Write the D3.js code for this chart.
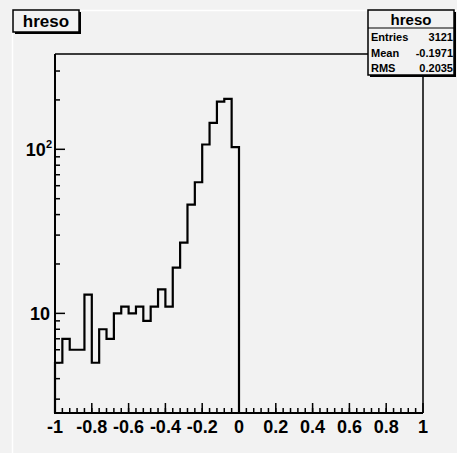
<!DOCTYPE html>
<html lang="en">
<head>
    <meta charset="UTF-8">
    <title>hreso</title>
    <script src="https://cdn.jsdelivr.net/npm/d3@7"></script>
    <style>
        body, html {
            margin: 0;
            padding: 0;
            overflow: hidden;
            background: #f2f2f2;
        }
        svg {
            display: block;
            font-family: "Liberation Sans", Arial, sans-serif;
            font-weight: bold;
        }
    </style>
</head>
<body>
    <svg id="mainsvg"></svg>
    <script>
        // histogram definition: 50 bins from -1 to 1
        const nBins = 50;
        const xMin = -1;
        const xMax = 1;
        // bin contents (bins 1..25, the rest are empty)
        const counts = [5, 7, 6, 6, 13, 5, 8, 7, 10, 11, 10, 11, 9, 11, 14, 11, 19, 27, 46, 63, 107, 145, 195, 203, 103];

        const xTickValues = [-1, -0.8, -0.6, -0.4, -0.2, 0, 0.2, 0.4, 0.6, 0.8, 1];
        const xTickLabels = ['-1', '-0.8', '-0.6', '-0.4', '-0.2', '0', '0.2', '0.4', '0.6', '0.8', '1'];
        const yTickValues = [10, 100];
        const yTickBase = ['10', '10'];
        const yTickExp = ['', '2'];
        const yMinor = [3, 4, 5, 6, 7, 8, 9, 20, 30, 40, 50, 60, 70, 80, 90, 200, 300];

        const histName = 'hreso';
        const statLabels = ['Entries', 'Mean', 'RMS'];
        const statValues = ['3121', '-0.1971', '0.2035'];

        const width = 457, height = 453;
        const svg = d3.select('svg').attr('width', width).attr('height', height);

        const margin = { top: 54, right: 34, bottom: 40, left: 55 };
        const frameW = width - margin.left - margin.right;
        const frameH = height - margin.top - margin.bottom;

        svg.append('rect').attr('width', width).attr('height', height).attr('fill', '#f2f2f2');

        // pad bevel highlight
        svg.append('path')
            .attr('d', `M12.5,${height} V10.5 H${width}`)
            .attr('fill', 'none').attr('stroke', '#ffffff').attr('stroke-width', 1.5);

        const g = svg.append('g').attr('transform', `translate(${margin.left}, ${margin.top})`);

        const xScale = d3.scaleLinear().domain([xMin, xMax]).range([0, frameW]);
        const yScale = d3.scaleLog().domain([2.47, 381]).range([frameH, 0]);

        const binW = (xMax - xMin) / nBins;
        const bins = d3.range(nBins).map(i => ({
            x0: xMin + i * binW,
            x1: xMin + (i + 1) * binW,
            n: counts[i] || 0
        }));

        // frame top/right
        g.append('path')
            .attr('d', `M0,0 H${frameW} V${frameH}`)
            .attr('fill', 'none').attr('stroke', '#000').attr('stroke-width', 1.5);

        // histogram outline (empty bins are not drawn on a log scale)
        const filled = bins.filter(b => b.n > 0);
        const lastX = xScale(filled[filled.length - 1].x1);
        const outline = [[xScale(xMin), frameH]];
        filled.forEach(b => {
            outline.push([xScale(b.x0), yScale(b.n)]);
            outline.push([xScale(b.x1), yScale(b.n)]);
        });
        outline.push([lastX, frameH]);
        g.append('path')
            .attr('d', d3.line()(outline))
            .attr('fill', 'none').attr('stroke', '#000').attr('stroke-width', 2.2)
            .attr('stroke-linejoin', 'miter');

        // x axis ticks
        const xMinor = bins.map(b => b.x0);
        g.selectAll('.xminor').data(xMinor).enter().append('line')
            .attr('x1', d => xScale(d)).attr('x2', d => xScale(d))
            .attr('y1', frameH).attr('y2', frameH - 5)
            .attr('stroke', '#000').attr('stroke-width', 1.5);
        g.selectAll('.xmajor').data(xTickValues).enter().append('line')
            .attr('x1', d => xScale(d)).attr('x2', d => xScale(d))
            .attr('y1', frameH).attr('y2', frameH - 10)
            .attr('stroke', '#000').attr('stroke-width', 1.5);
        g.selectAll('.xlabel').data(xTickValues).enter().append('text')
            .attr('x', d => xScale(d))
            .attr('y', frameH + 20)
            .attr('text-anchor', 'middle')
            .attr('font-size', '18px')
            .attr('fill', '#000')
            .text((d, i) => xTickLabels[i]);

        // y axis ticks (log)
        g.selectAll('.yminor').data(yMinor).enter().append('line')
            .attr('x1', 0).attr('x2', 5)
            .attr('y1', d => yScale(d)).attr('y2', d => yScale(d))
            .attr('stroke', '#000').attr('stroke-width', 1.5);
        g.selectAll('.ymajor').data(yTickValues).enter().append('line')
            .attr('x1', 0).attr('x2', 10)
            .attr('y1', d => yScale(d)).attr('y2', d => yScale(d))
            .attr('stroke', '#000').attr('stroke-width', 1.5);
        const yl = g.selectAll('.ylabel').data(yTickValues).enter().append('text')
            .attr('x', (d, i) => yTickExp[i] ? -3 : -5)
            .attr('y', d => yScale(d) + 7)
            .attr('text-anchor', 'end')
            .attr('font-size', '18px')
            .attr('fill', '#000');
        yl.append('tspan').text((d, i) => yTickBase[i]);
        yl.append('tspan')
            .attr('dy', -8)
            .attr('font-size', '11px')
            .text((d, i) => yTickExp[i]);

        // axes lines
        g.append('path')
            .attr('d', `M0,0 V${frameH} H${frameW}`)
            .attr('fill', 'none').attr('stroke', '#000').attr('stroke-width', 2);

        // title box
        const tb = { x: 13, y: 10, w: 66, h: 22 };
        svg.append('rect').attr('x', tb.x + 2).attr('y', tb.y + 2).attr('width', tb.w).attr('height', tb.h).attr('fill', '#000');
        svg.append('rect').attr('x', tb.x).attr('y', tb.y).attr('width', tb.w).attr('height', tb.h)
            .attr('fill', '#f2f2f2').attr('stroke', '#000').attr('stroke-width', 1.5);
        svg.append('text')
            .attr('x', tb.x + tb.w / 2).attr('y', tb.y + 17)
            .attr('text-anchor', 'middle').attr('font-size', '17px')
            .text(histName);

        // stats box
        const sb = { x: 368, y: 10, w: 86, h: 65 };
        svg.append('rect').attr('x', sb.x + 2).attr('y', sb.y + 2).attr('width', sb.w).attr('height', sb.h).attr('fill', '#000');
        svg.append('rect').attr('x', sb.x).attr('y', sb.y).attr('width', sb.w).attr('height', sb.h)
            .attr('fill', '#f2f2f2').attr('stroke', '#000').attr('stroke-width', 1.5);
        svg.append('text')
            .attr('x', sb.x + sb.w / 2).attr('y', sb.y + 15)
            .attr('text-anchor', 'middle').attr('font-size', '15px')
            .text(histName);
        svg.append('line')
            .attr('x1', sb.x).attr('x2', sb.x + sb.w)
            .attr('y1', sb.y + 18).attr('y2', sb.y + 18)
            .attr('stroke', '#000').attr('stroke-width', 1.2);
        const rowY = d3.scalePoint().domain(statLabels).range([sb.y + 31, sb.y + 62]);
        svg.selectAll('.slabel').data(statLabels).enter().append('text')
            .attr('x', sb.x + 3).attr('y', d => rowY(d))
            .attr('font-size', '11px')
            .text(d => d);
        svg.selectAll('.svalue').data(statValues).enter().append('text')
            .attr('x', sb.x + sb.w - 1).attr('y', (d, i) => rowY(statLabels[i]))
            .attr('text-anchor', 'end').attr('font-size', '11px')
            .text(d => d);
    </script>
</body>
</html>
